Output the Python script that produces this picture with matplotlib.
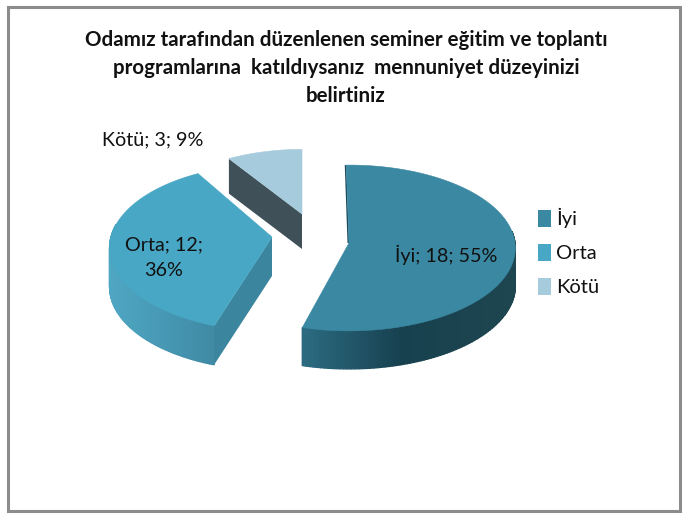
import numpy as np
import matplotlib

matplotlib.use("Agg")
import matplotlib.pyplot as plt
from matplotlib.patches import Patch, Polygon, Rectangle

plt.rcParams["font.family"] = ["Lato", "DejaVu Sans"]

title = (
    "Odamız tarafından düzenlenen seminer eğitim ve toplantı\n"
    "programlarına  katıldıysanız  mennuniyet düzeyinizi\n"
    "belirtiniz"
)
categories = ["İyi", "Orta", "Kötü"]
values = [18, 12, 3]
percents = [55, 36, 9]

top_colors = ["#3a88a2", "#47a7c4", "#a5cbdc"]
# per slice look: apex x, apex y, x radius, y radius, perspective, depth, turn (deg)
slice_geom = [
    (349, 243, 166, 82.6, 0.06, 38, -1.0),
    (272, 237, 161, 82, 0.13, 39, 2.0),
    (302, 214, 150, 73, 0.13, 35, 0),
]
wall_stops = [
    ([306, 400, 515], ["#2b6a80", "#17414f", "#1e4650"]),
    ([109, 214], ["#4fa7c3", "#3f8aa5"]),
    ([228, 302], ["#3f5059", "#3f5059"]),
]
cut_colors = ["#1c4a5a", "#3b859f", "#3f5059"]
label_pos = [(446, 255), (164, 258), (153, 140)]


def hex_rgb(c):
    return np.array(matplotlib.colors.to_rgb(c))


def project(theta, geom):
    cx, cy, rx, ry, k = geom[:5]
    u = np.sin(theta)
    v = np.cos(theta)
    s = 1.0 / (1.0 + k * v)
    return np.column_stack([cx + rx * u * s, cy - ry * v * s]), v


fig = plt.figure(figsize=(6.93, 5.16), dpi=100)
ax = fig.add_axes([0, 0, 1, 1])
ax.set_xlim(0, 693)
ax.set_ylim(516, 0)
ax.axis("off")

ax.add_patch(Rectangle((8, 6.5), 671.5, 504.5, fc="white", ec="#8c8c8c", lw=2.2))

ax.text(346, 68, title, ha="center", va="center", fontsize=14.8,
        fontweight="bold", color="#111111", linespacing=1.5)

total = sum(values)
edges = np.concatenate([[0], np.cumsum(values)]) / total * 2 * np.pi
label_text = [f"{c}; {n}; {p}%" for c, n, p in zip(categories, values, percents)]
label_text[1] = label_text[1].replace("12; ", "12;\n")

for i in [2, 1, 0]:
    geom = slice_geom[i]
    depth = geom[5]
    turn = np.deg2rad(geom[6])
    theta = np.linspace(edges[i] + turn, edges[i + 1] + turn, 160)
    arc, v = project(theta, geom)
    apex = np.array(geom[:2], dtype=float)

    # outer wall, coloured by x position
    xs, cols = wall_stops[i]
    rgb = np.array([hex_rgb(c) for c in cols])
    for j in range(len(arc) - 1):
        if v[j] > 0.15:
            continue
        mid = 0.5 * (arc[j, 0] + arc[j + 1, 0])
        col = [np.interp(mid, xs, rgb[:, n]) for n in range(3)]
        quad = [arc[j], arc[j + 1], arc[j + 1] + [0, depth], arc[j] + [0, depth]]
        ax.add_patch(Polygon(quad, fc=col, ec=col, lw=1.0, zorder=2))

    # cut wall
    end = arc[0]
    if i == 0:
        quad = [end + [-1.5, 0], end, apex, apex + [-1.5, 0]]
    else:
        quad = [apex, end, end + [0, depth], apex + [0, depth]]
    ax.add_patch(Polygon(quad, fc=cut_colors[i], ec="none", zorder=3))

    ax.add_patch(Polygon(np.vstack([apex, arc]), fc=top_colors[i], ec=top_colors[i],
                         lw=0.4, zorder=4))

    ax.text(label_pos[i][0], label_pos[i][1], label_text[i], ha="center", va="center",
            fontsize=14.2, color="#111111", linespacing=1.6, zorder=5)

handles = [Patch(fc=c, ec="none") for c in top_colors]
ax.legend(handles, categories, loc="upper left", bbox_to_anchor=(538, 208),
          bbox_transform=ax.transData, frameon=False, fontsize=14.5,
          handlelength=0.65, handleheight=0.9, handletextpad=0.25,
          labelspacing=0.78, labelcolor="#111111", borderpad=0, borderaxespad=0)

plt.savefig("out.png", dpi=100)
